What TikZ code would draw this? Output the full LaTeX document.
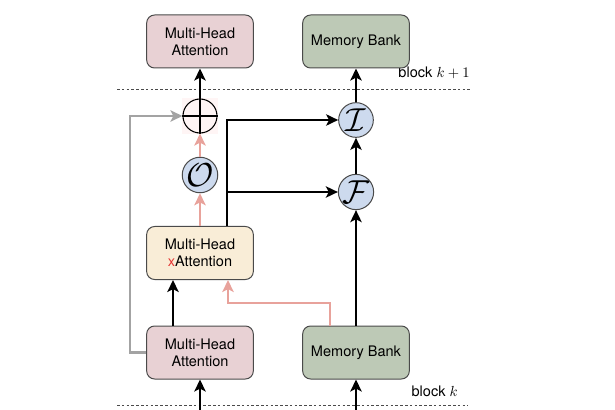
\documentclass[tikz,border=0pt]{standalone}
\usepackage{fontspec}
\setmainfont{TeX Gyre Heros}
\usetikzlibrary{arrows.meta,positioning,calc}

\definecolor{mhafill}{HTML}{E8D1D4}
\definecolor{memfill}{HTML}{BDC9B6}
\definecolor{xattfill}{HTML}{F9EDD7}
\definecolor{opfill}{HTML}{CDDAEE}
\definecolor{pinkline}{HTML}{E8A29B}
\definecolor{greyline}{HTML}{A3A3A3}
\definecolor{edgeline}{HTML}{4A4A4A}
\definecolor{xred}{HTML}{E53935}

\begin{document}
\begin{tikzpicture}[x=0.75pt,y=-0.75pt,font=\fontsize{10.9}{13}\selectfont,
  box/.style={draw=edgeline,line width=0.75pt,rounded corners=6pt,minimum width=80pt,minimum height=39.75pt,align=center},
  op/.style={circle,draw=edgeline,line width=0.75pt,fill=opfill,minimum size=26pt,inner sep=0pt,font=\Huge},
  arr/.style={line width=1.8pt,-{Stealth[length=9pt,width=8.5pt,inset=2.2pt]}},
  pinkarr/.style={arr,draw=pinkline},
  greyarr/.style={arr,draw=greyline},
  sep/.style={draw=edgeline,line width=0.5pt,dash pattern=on 2pt off 1.6pt}]
\useasboundingbox (0,0) rectangle (615,410);

% block separators
\draw[sep] (117,89) -- (472,89);
\draw[sep] (117,405.7) -- (468,405.7);
\node[anchor=base east,inner sep=0pt] (lblup) at (470,78) {block $k+1$};
\node[anchor=base east,inner sep=0pt] (lbldown) at (458,396) {block $k$};

% boxes
\node[box,fill=mhafill] (mhatop) at (200,41.5) {Multi-Head\\Attention};
\node[box,fill=memfill] (memtop) at (356,41.5) {Memory Bank};
\node[box,fill=xattfill] (xatt) at (200,253) {Multi-Head\\\textcolor{xred}{x}Attention};
\node[box,fill=mhafill] (mhabot) at (200,352.5) {Multi-Head\\Attention};
\node[box,fill=memfill] (membot) at (356,352.5) {Memory Bank};

% operators
\fill[red!4] (182,98) rectangle (218,134);
\node[circle,draw=black,line width=0.8pt,minimum size=25.5pt,inner sep=0pt] (add) at (200,116) {};
\draw[line width=0.8pt] (add.north) -- (add.south) (add.west) -- (add.east);
\node[op] (outp) at (200,175) {$\mathcal{O}$};
\node[op] (inj) at (356,120) {$\mathcal{I}$};
\node[op] (fus) at (356,192) {$\mathcal{F}$};

% connectors
\coordinate (inA) at (200,410);
\coordinate (inB) at (356,410);
\coordinate (gturn) at (130,116);
\coordinate (split) at ([xshift=20.25pt]xatt.north);
\coordinate (pturn) at (330,303);
\draw[arr] (inA) -- (mhabot.south);
\draw[arr] (inB) -- (membot.south);
\draw[arr] ([xshift=-20.25pt]mhabot.north) -- ([xshift=-20.25pt]xatt.south);
\draw[pinkarr] ([xshift=-19.5pt]membot.north) -- (pturn) -| ([xshift=21pt]xatt.south);
\draw[greyarr] (mhabot.west) -| (gturn) -- (add.west);
\draw[pinkarr] (xatt.north) -- (outp.south);
\draw[pinkarr] (outp.north) -- (add.south);
\draw[arr] (add.north) -- (mhatop.south);
\draw[arr] (split) |- (inj.west);
\draw[arr] (split |- fus.west) -- (fus.west);
\draw[arr] (membot.north) -- (fus.south);
\draw[arr] (fus.north) -- (inj.south);
\draw[arr] (inj.north) -- (memtop.south);
\end{tikzpicture}
\end{document}
